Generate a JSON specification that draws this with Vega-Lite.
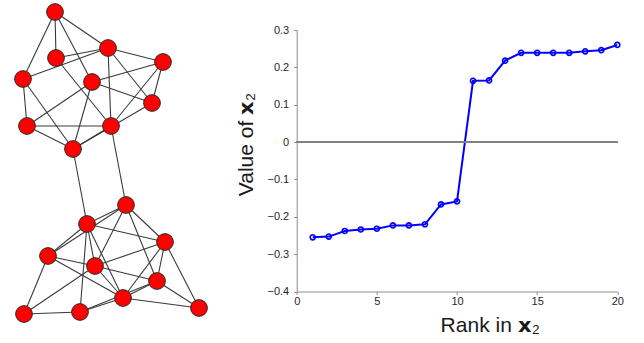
{
  "$schema": "https://vega.github.io/schema/vega-lite/v6.json",
  "autosize": {"type": "none"},
  "padding": {"left": 296.7, "top": 30, "right": 26.7, "bottom": 51.5},
  "width": 320.6,
  "height": 261.5,
  "background": "white",
  "config": {"view": {"stroke": null}, "font": "Liberation Sans"},
  "datasets": {
    "nodes": [
      {"id": "A", "gx": 55, "gy": 12}, {"id": "B", "gx": 108, "gy": 48}, {"id": "C", "gx": 56, "gy": 58},
      {"id": "D", "gx": 163, "gy": 62}, {"id": "E", "gx": 23, "gy": 79}, {"id": "F", "gx": 92, "gy": 82},
      {"id": "G", "gx": 152, "gy": 103}, {"id": "H", "gx": 27, "gy": 126}, {"id": "I", "gx": 111, "gy": 126},
      {"id": "J", "gx": 73, "gy": 149}, {"id": "K", "gx": 126, "gy": 205}, {"id": "L", "gx": 87, "gy": 224},
      {"id": "M", "gx": 165, "gy": 242}, {"id": "N", "gx": 48, "gy": 256}, {"id": "O", "gx": 95, "gy": 266},
      {"id": "P", "gx": 157, "gy": 281}, {"id": "Q", "gx": 123, "gy": 298}, {"id": "R", "gx": 24, "gy": 314},
      {"id": "S", "gx": 80, "gy": 312}, {"id": "T", "gx": 199, "gy": 308}
    ],
    "edges": [
      {"source": "A", "target": "B"}, {"source": "A", "target": "C"}, {"source": "A", "target": "E"}, {"source": "A", "target": "F"},
      {"source": "B", "target": "C"}, {"source": "B", "target": "E"}, {"source": "B", "target": "D"}, {"source": "B", "target": "G"},
      {"source": "B", "target": "I"}, {"source": "C", "target": "I"}, {"source": "D", "target": "F"}, {"source": "D", "target": "G"},
      {"source": "D", "target": "I"}, {"source": "E", "target": "H"}, {"source": "E", "target": "J"}, {"source": "F", "target": "G"},
      {"source": "F", "target": "H"}, {"source": "F", "target": "J"}, {"source": "G", "target": "J"}, {"source": "H", "target": "I"},
      {"source": "H", "target": "J"}, {"source": "I", "target": "J"},
      {"source": "I", "target": "K"}, {"source": "J", "target": "L"},
      {"source": "K", "target": "L"}, {"source": "K", "target": "N"}, {"source": "K", "target": "O"}, {"source": "K", "target": "M"},
      {"source": "K", "target": "P"}, {"source": "L", "target": "N"}, {"source": "L", "target": "O"}, {"source": "L", "target": "M"},
      {"source": "L", "target": "S"}, {"source": "L", "target": "Q"}, {"source": "N", "target": "O"}, {"source": "N", "target": "Q"},
      {"source": "N", "target": "R"}, {"source": "O", "target": "M"}, {"source": "O", "target": "P"}, {"source": "O", "target": "Q"},
      {"source": "O", "target": "R"}, {"source": "M", "target": "P"}, {"source": "M", "target": "Q"}, {"source": "M", "target": "T"},
      {"source": "P", "target": "Q"}, {"source": "P", "target": "S"}, {"source": "P", "target": "T"}, {"source": "Q", "target": "S"},
      {"source": "Q", "target": "T"}, {"source": "R", "target": "S"}
    ],
    "fiedler": [
      {"rank": 1, "value": -0.255}, {"rank": 2, "value": -0.253}, {"rank": 3, "value": -0.238}, {"rank": 4, "value": -0.234},
      {"rank": 5, "value": -0.232}, {"rank": 6, "value": -0.223}, {"rank": 7, "value": -0.223}, {"rank": 8, "value": -0.220},
      {"rank": 9, "value": -0.167}, {"rank": 10, "value": -0.159}, {"rank": 11, "value": 0.164}, {"rank": 12, "value": 0.165},
      {"rank": 13, "value": 0.218}, {"rank": 14, "value": 0.239}, {"rank": 15, "value": 0.239}, {"rank": 16, "value": 0.239},
      {"rank": 17, "value": 0.239}, {"rank": 18, "value": 0.243}, {"rank": 19, "value": 0.246}, {"rank": 20, "value": 0.260}
    ]
  },
  "layer": [
    {
      "layer": [
        {
          "data": {"name": "edges"},
          "transform": [
            {"lookup": "source", "from": {"data": {"name": "nodes"}, "key": "id", "fields": ["gx", "gy"]}, "as": ["sx", "sy"]},
            {"lookup": "target", "from": {"data": {"name": "nodes"}, "key": "id", "fields": ["gx", "gy"]}, "as": ["tx", "ty"]}
          ],
          "mark": {"type": "rule", "color": "#3a3a3a", "strokeWidth": 1.1},
          "encoding": {
            "x": {"field": "sx", "type": "quantitative", "scale": {"domain": [296.7, 617.3], "nice": false, "zero": false}, "axis": null},
            "y": {"field": "sy", "type": "quantitative", "scale": {"domain": [30, 291.5], "reverse": true, "nice": false, "zero": false}, "axis": null},
            "x2": {"field": "tx"},
            "y2": {"field": "ty"}
          }
        },
        {
          "data": {"name": "nodes"},
          "mark": {"type": "point", "filled": true, "fill": "#ff0000", "stroke": "#2a2a2a", "strokeWidth": 1, "size": 280, "opacity": 1},
          "encoding": {
            "x": {"field": "gx", "type": "quantitative", "axis": null},
            "y": {"field": "gy", "type": "quantitative", "axis": null}
          }
        }
      ]
    },
    {
      "data": {"name": "fiedler"},
      "layer": [
        {
          "mark": {"type": "line", "color": "#0000ff", "strokeWidth": 2,
                   "point": {"filled": false, "color": "#0000ff", "size": 26, "strokeWidth": 1.6}},
          "encoding": {
            "x": {
              "field": "rank", "type": "quantitative",
              "scale": {"domain": [0, 20], "nice": false},
              "axis": {"values": [0, 5, 10, 15, 20], "tickCount": 30, "format": "d", "title": "Rank in 𝘅₂", "grid": false,
                       "labelOverlap": false, "labelFlush": false,
                       "domainColor": "#8c8c8c", "tickColor": "#8c8c8c", "tickSize": 3,
                       "labelFontSize": 11, "labelColor": "#262626", "labelPadding": 1,
                       "titleFontSize": 21, "titleFontWeight": "normal", "titleColor": "#1a1a1a",
                       "titlePadding": 8, "titleX": 193}
            },
            "y": {
              "field": "value", "type": "quantitative",
              "scale": {"domain": [-0.4, 0.3], "nice": false, "zero": false},
              "axis": {"values": [-0.4, -0.3, -0.2, -0.1, 0, 0.1, 0.2, 0.3], "tickCount": 30, "format": "~g", "title": "Value of 𝘅₂", "grid": false,
                       "labelOverlap": false, "labelFlush": false,
                       "domainColor": "#8c8c8c", "tickColor": "#8c8c8c", "tickSize": 3,
                       "labelFontSize": 11, "labelColor": "#262626", "labelPadding": 5,
                       "titleFontSize": 21, "titleFontWeight": "normal", "titleColor": "#1a1a1a",
                       "titlePadding": 10, "titleY": 114}
            }
          }
        },
        {
          "mark": {"type": "rule", "color": "#808080", "strokeWidth": 1},
          "encoding": {"y": {"datum": 0, "type": "quantitative"}}
        }
      ]
    }
  ],
  "resolve": {"scale": {"x": "independent", "y": "independent"}}
}
